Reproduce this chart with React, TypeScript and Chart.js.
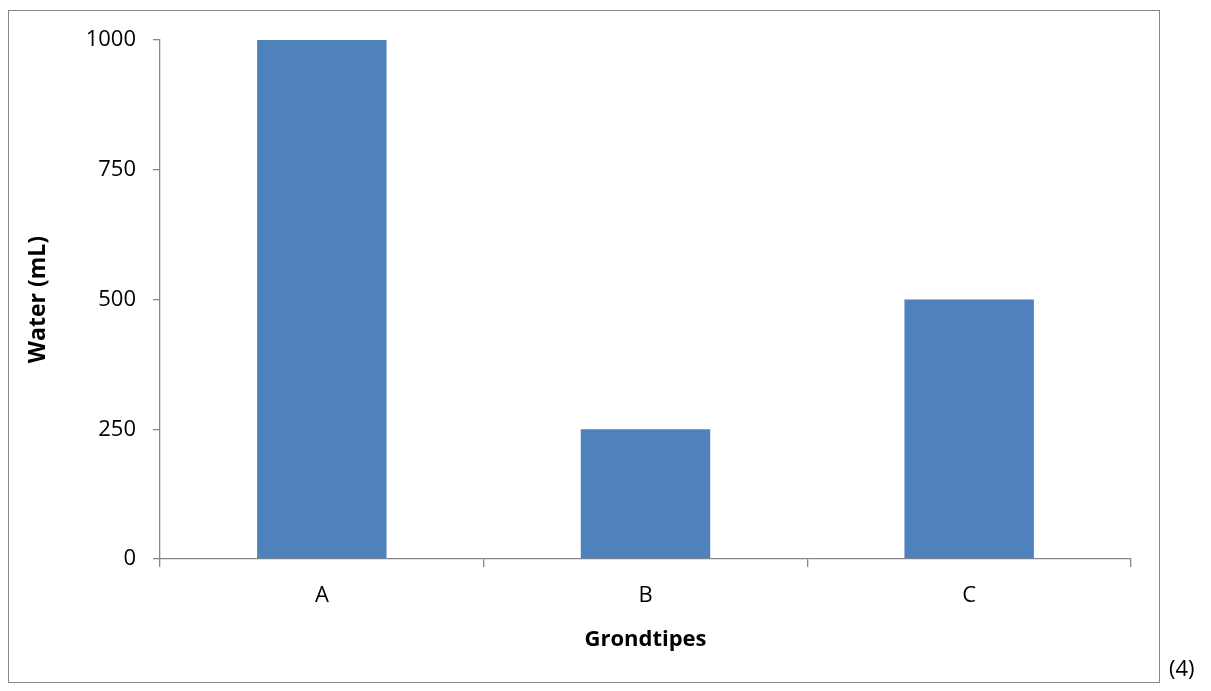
import React, { useEffect, useRef } from "react";
import { Chart, registerables } from "chart.js";

Chart.register(...registerables);

const categories = ["A", "B", "C"];
const waterValues = [1000, 250, 500];
const yTicks = [0, 250, 500, 750, 1000];
const xTitle = "Grondtipes";
const yTitle = "Water (mL)";
const noteText = "(4)";

const FONT = "'Open Sans', 'Liberation Sans', sans-serif";
const AXIS = "#868686";

export default function App() {
  const ref = useRef<HTMLCanvasElement | null>(null);

  useEffect(() => {
    if (!ref.current) return;
    const chart = new Chart(ref.current, {
      type: "bar",
      data: {
        labels: categories,
        datasets: [
          {
            data: waterValues,
            backgroundColor: "#4F81BD",
            borderWidth: 0,
            categoryPercentage: 1,
            barPercentage: 0.4,
          },
        ],
      },
      options: {
        responsive: false,
        animation: false,
        devicePixelRatio: 1,
        layout: { padding: { left: 0, top: 40, right: 80, bottom: 0 } },
        plugins: { legend: { display: false }, tooltip: { enabled: false } },
        scales: {
          x: {
            grid: { drawOnChartArea: false, tickLength: 8, color: AXIS, lineWidth: 1.3 },
            border: { color: AXIS, width: 1.3 },
            ticks: { color: "#000", font: { family: FONT, size: 22 }, padding: 16 },
            afterFit: (s: any) => {
              s.height = 691 - 559;
            },
          },
          y: {
            min: 0,
            max: 1000,
            afterBuildTicks: (s: any) => {
              s.ticks = yTicks.map((v) => ({ value: v }));
            },
            grid: { drawOnChartArea: false, tickLength: 7, color: AXIS, lineWidth: 1.3 },
            border: { color: AXIS, width: 1.3 },
            ticks: {
              color: "#000",
              font: { family: FONT, size: 22 },
              padding: 17,
              callback: (v: any) => String(v),
            },
            afterFit: (s: any) => {
              s.width = 160;
            },
          },
        },
      },
      plugins: [
        {
          id: "axisTitles",
          afterDraw: (c: any) => {
            const ctx = c.ctx;
            const a = c.chartArea;
            ctx.save();
            ctx.fillStyle = "#000";
            ctx.font = `bold 22px ${FONT}`;
            ctx.textAlign = "center";
            ctx.textBaseline = "middle";
            ctx.fillText(xTitle, (a.left + a.right) / 2, 640);
            ctx.font = `bold 23px ${FONT}`;
            ctx.translate(38, (a.top + a.bottom) / 2);
            ctx.rotate(-Math.PI / 2);
            ctx.fillText(yTitle, 0, 0);
            ctx.restore();
          },
        },
      ],
    });
    return () => chart.destroy();
  }, []);

  return (
    <div style={{ position: "absolute", left: 0, top: 0, width: 1211, height: 691 }}>
      <div
        style={{
          position: "absolute",
          left: 8,
          top: 10,
          width: 1152,
          height: 673,
          border: `1.3px solid ${AXIS}`,
          boxSizing: "border-box",
        }}
      />
      <canvas
        ref={ref}
        width={1211}
        height={691}
        style={{ position: "absolute", left: 0, top: 0, width: 1211, height: 691 }}
      />
      <span
        style={{
          position: "absolute",
          left: 1169,
          top: 652,
          fontFamily: FONT,
          fontSize: 22,
          lineHeight: "30px",
          color: "#000",
        }}
      >
        {noteText}
      </span>
    </div>
  );
}
